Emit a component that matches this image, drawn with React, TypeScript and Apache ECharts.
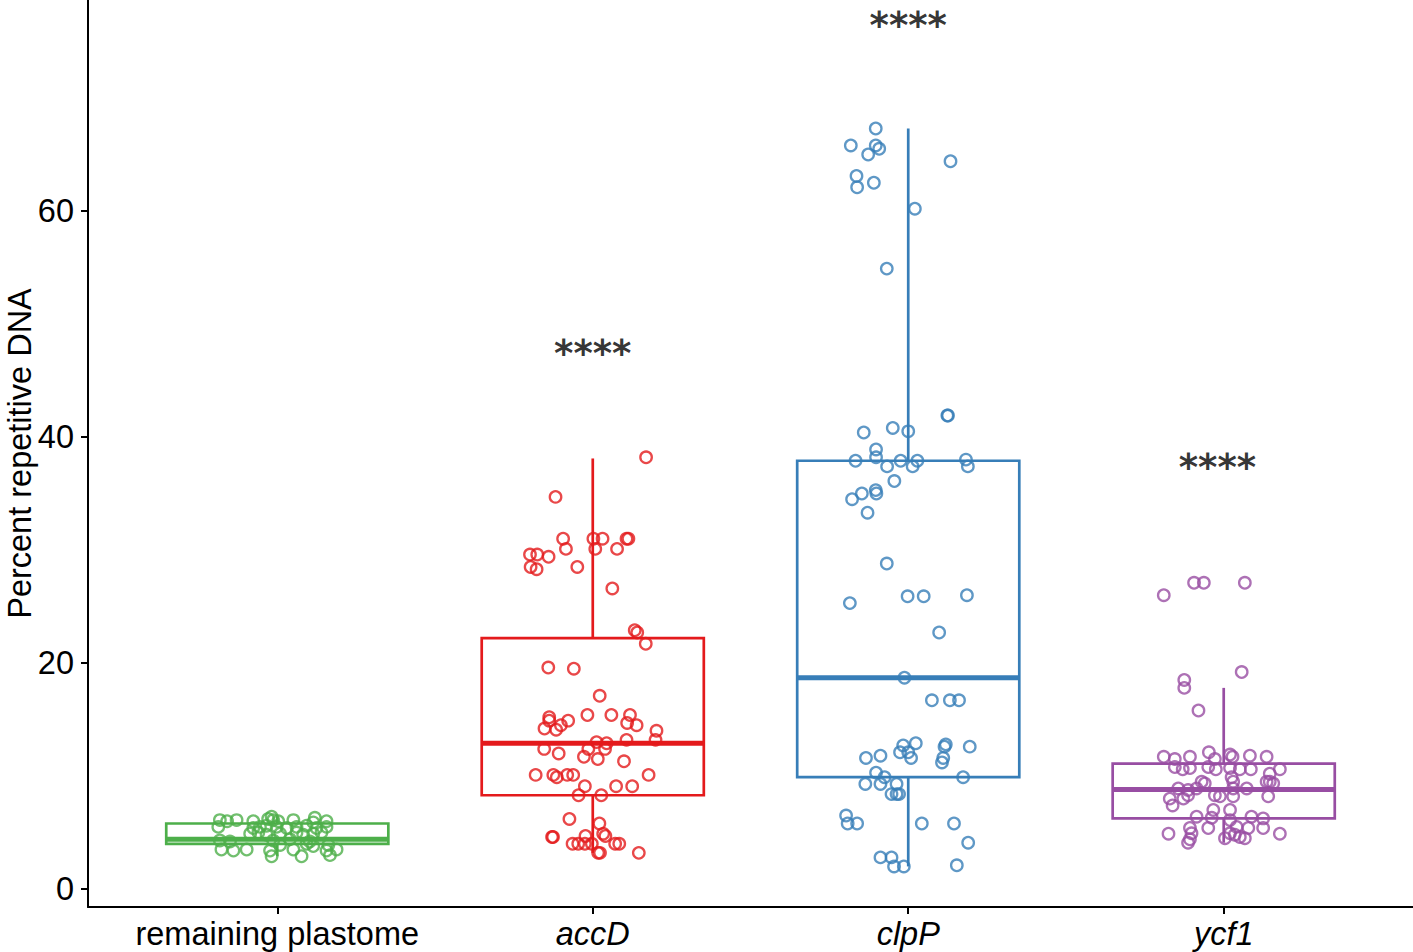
import React, { useEffect, useRef } from "react";
import * as echarts from "echarts";

const categories = ["remaining plastome", "accD", "clpP", "ycf1"];
const italicCats = [false, true, true, true];
const colors = ["#4DAF4A", "#E41A1C", "#377EB8", "#984EA3"];
const yTicks = [0, 20, 40, 60];

// [whisker low, Q1, median, Q3, whisker high]
const boxStats = [
  [2.9, 4.0, 4.4, 5.8, 6.4],
  [3.2, 8.3, 12.9, 22.2, 38.1],
  [2.0, 9.9, 18.7, 37.9, 67.3],
  [4.1, 6.25, 8.8, 11.1, 17.8],
];

// jittered points: [offset from category, value]
const plastomePoints = [
  [-0.182, 6.1], [-0.159, 6.0], [-0.129, 6.1], [-0.076, 6.0], [-0.029, 6.2], [-0.013, 6.1], [0.003, 6.0], [0.051, 6.1], [0.114, 5.9], [0.156, 6.0],
  [-0.018, 6.4], [0.119, 6.3],
  [-0.187, 5.5], [-0.076, 5.4], [-0.055, 5.5], [-0.034, 5.6], [-0.002, 5.5], [0.03, 5.4], [0.061, 5.5], [0.093, 5.6], [0.124, 5.4], [0.156, 5.5],
  [-0.086, 4.9], [-0.06, 5.0], [-0.034, 4.8], [0.009, 4.9], [0.061, 5.0], [0.082, 4.8], [0.114, 4.9], [0.14, 5.0],
  [-0.182, 4.3], [-0.15, 4.2], [-0.013, 4.3], [0.04, 4.4], [0.103, 4.2],
  [0.009, 3.9], [0.093, 4.0], [0.114, 3.8], [0.162, 3.9],
  [-0.177, 3.5], [-0.139, 3.4], [-0.097, 3.5], [-0.023, 3.4], [0.051, 3.5], [0.156, 3.4], [0.188, 3.5],
  [-0.018, 2.9], [0.077, 2.9], [0.167, 3.0],
];

const accDPoints = [
  [0.169, 38.2], [-0.118, 34.7], [-0.094, 31.0], [0.002, 31.0], [0.031, 31.0], [0.107, 31.0], [0.113, 31.0],
  [-0.085, 30.1], [0.008, 30.1], [0.077, 30.1], [-0.199, 29.6], [-0.176, 29.6], [-0.14, 29.4], [-0.197, 28.5],
  [-0.178, 28.3], [-0.049, 28.5], [0.062, 26.6], [0.133, 22.9], [0.141, 22.7], [0.168, 21.7], [-0.141, 19.6],
  [-0.06, 19.5], [0.022, 17.1], [-0.138, 15.2], [-0.138, 14.9], [-0.078, 14.9], [-0.017, 15.4], [0.059, 15.4],
  [0.118, 15.4], [0.109, 14.7], [0.139, 14.5], [-0.101, 14.5], [-0.116, 14.1], [-0.153, 14.2], [0.202, 14.0],
  [0.199, 13.2], [0.107, 13.2], [0.012, 13.0], [0.044, 12.9], [-0.014, 12.4], [0.039, 12.4], [-0.154, 12.4],
  [-0.108, 12.0], [-0.028, 11.7], [0.016, 11.5], [0.099, 11.3], [-0.181, 10.1], [-0.125, 10.1], [-0.114, 9.9],
  [-0.081, 10.1], [-0.062, 10.1], [0.177, 10.1], [-0.025, 9.1], [0.074, 9.1], [0.125, 9.1], [-0.045, 8.3],
  [0.027, 8.3], [-0.074, 6.2], [0.021, 5.8], [-0.129, 4.6], [-0.126, 4.6], [-0.023, 4.7], [0.033, 4.9],
  [0.04, 4.7], [-0.064, 4.0], [-0.046, 4.0], [-0.025, 4.0], [-0.003, 4.0], [0.071, 4.0], [0.084, 4.0],
  [0.017, 3.2], [0.023, 3.2], [0.146, 3.2],
];

const clpPPoints = [
  [-0.103, 67.3], [-0.182, 65.8], [-0.103, 65.8], [-0.092, 65.5], [-0.127, 65.0], [0.134, 64.4], [-0.164, 63.1],
  [-0.162, 62.1], [-0.109, 62.5], [0.021, 60.2], [-0.068, 54.9], [0.124, 41.9], [0.126, 41.9], [-0.141, 40.4],
  [-0.049, 40.8], [0.0, 40.5], [-0.102, 38.9], [-0.102, 38.2], [-0.167, 37.9], [-0.024, 37.9], [0.029, 37.9],
  [0.183, 38.0], [0.189, 37.4], [-0.067, 37.4], [0.014, 37.4], [-0.044, 36.1], [-0.178, 34.5], [-0.147, 35.0],
  [-0.103, 35.3], [-0.101, 35.0], [-0.129, 33.3], [-0.068, 28.8], [-0.185, 25.3], [-0.002, 25.9], [0.049, 25.9],
  [0.186, 26.0], [0.098, 22.7], [-0.012, 18.7], [0.075, 16.7], [0.132, 16.7], [0.161, 16.7], [0.024, 12.9],
  [-0.016, 12.7], [-0.026, 12.1], [0.0, 12.1], [0.009, 11.6], [0.119, 12.8], [0.115, 12.6], [0.195, 12.6],
  [0.111, 11.6], [0.107, 11.2], [-0.134, 11.6], [-0.088, 11.8], [-0.102, 10.3], [-0.075, 9.9], [-0.136, 9.3],
  [-0.088, 9.3], [-0.037, 9.3], [0.174, 9.9], [-0.053, 8.4], [-0.037, 8.4], [-0.029, 8.4], [-0.197, 6.5],
  [-0.192, 5.8], [-0.162, 5.8], [0.043, 5.8], [0.145, 5.8], [0.19, 4.1], [-0.088, 2.8], [-0.053, 2.8],
  [-0.045, 2.0], [-0.014, 2.0], [0.154, 2.1],
];

const ycf1Points = [
  [-0.19, 26.0], [-0.094, 27.1], [-0.063, 27.1], [0.067, 27.1], [0.057, 19.2], [-0.125, 18.5], [-0.125, 17.8],
  [-0.08, 15.8],
  [-0.19, 11.7], [-0.155, 11.5], [-0.107, 11.7], [-0.047, 12.1], [-0.028, 11.5], [0.02, 11.9], [0.028, 11.7],
  [0.083, 11.8], [0.136, 11.7],
  [-0.155, 10.8], [-0.13, 10.6], [-0.107, 10.7], [-0.049, 10.8], [-0.025, 10.6], [0.02, 10.7], [0.051, 10.6],
  [0.086, 10.6], [0.146, 10.2], [0.178, 10.6],
  [0.025, 9.9], [0.03, 9.5], [-0.07, 9.5], [-0.06, 9.35], [0.136, 9.5], [0.157, 9.35], [0.146, 9.5],
  [-0.144, 8.9], [-0.113, 8.76], [-0.086, 8.9], [0.073, 8.9], [0.03, 8.9],
  [-0.171, 8.0], [-0.128, 8.0], [-0.113, 8.3], [-0.028, 8.3], [-0.012, 8.2], [0.03, 8.2], [0.141, 8.2],
  [-0.162, 7.4], [-0.033, 7.0], [0.02, 7.0],
  [-0.086, 6.4], [-0.038, 6.3], [0.088, 6.4], [0.125, 6.25], [0.02, 6.1],
  [-0.107, 5.4], [-0.049, 5.4], [0.078, 5.4], [0.125, 5.4], [0.041, 5.5],
  [-0.175, 4.9], [-0.102, 4.93], [0.02, 4.93], [0.035, 4.8], [0.178, 4.9],
  [-0.107, 4.4], [0.004, 4.5], [0.051, 4.6], [0.067, 4.5], [-0.113, 4.1],
];

const groupPoints = [plastomePoints, accDPoints, clpPPoints, ycf1Points];

// significance labels: [x, y, text]
const sigLabels: [number, number, string][] = [
  [2, 47.4, "****"],
  [3, 76.4, "****"],
  [3.98, 37.3, "****"],
];

const FONT = "'Liberation Sans', Arial, Helvetica, sans-serif";
const FS = 32.5;
const BOX_HALF = 0.352;

export default function App() {
  const ref = useRef<HTMLDivElement>(null);

  useEffect(() => {
    if (!ref.current) return;
    const chart = echarts.init(ref.current, undefined, { renderer: "svg" });

    const boxSeries = {
      type: "custom",
      z: 2,
      data: boxStats.map((s, i) => [i + 1, ...s]),
      encode: { x: 0, y: [1, 2, 3, 4, 5] },
      renderItem: (params: any, api: any) => {
        const x = api.value(0);
        const lo = api.value(1);
        const q1 = api.value(2);
        const med = api.value(3);
        const q3 = api.value(4);
        const hi = api.value(5);
        const color = colors[params.dataIndex];
        const tl = api.coord([x - BOX_HALF, q3]);
        const br = api.coord([x + BOX_HALF, q1]);
        const c = api.coord([x, med]);
        const pLo = api.coord([x, lo]);
        const pHi = api.coord([x, hi]);
        const lw = 2.7;
        return {
          type: "group",
          children: [
            { type: "line", shape: { x1: c[0], y1: tl[1], x2: c[0], y2: pHi[1] }, style: { stroke: color, lineWidth: lw } },
            { type: "line", shape: { x1: c[0], y1: br[1], x2: c[0], y2: pLo[1] }, style: { stroke: color, lineWidth: lw } },
            {
              type: "rect",
              shape: { x: tl[0], y: tl[1], width: br[0] - tl[0], height: br[1] - tl[1] },
              style: { fill: "#ffffff", stroke: color, lineWidth: lw },
            },
            { type: "line", shape: { x1: tl[0], y1: c[1], x2: br[0], y2: c[1] }, style: { stroke: color, lineWidth: 5 } },
          ],
        };
      },
    };

    const pointSeries = groupPoints.map((pts, g) => ({
      type: "scatter",
      z: 3,
      symbol: "circle",
      symbolSize: 11.5,
      data: pts.map(([dx, v]) => [g + 1 + dx, v]),
      itemStyle: { color: "rgba(0,0,0,0)", borderColor: colors[g], borderWidth: 2.3 },
      emphasis: { disabled: true },
    }));

    const sigSeries = {
      type: "scatter",
      z: 4,
      symbolSize: 0,
      data: sigLabels.map(([x, y]) => [x, y]),
      label: {
        show: true,
        position: "inside",
        formatter: (p: any) => sigLabels[p.dataIndex][2],
        fontSize: 37,
        fontWeight: "bold",
        fontFamily: "'DejaVu Sans', sans-serif",
        color: "#000",
      },
    };

    chart.setOption({
      animation: false,
      grid: { left: 88, right: 0, top: 0, bottom: 45, containLabel: false, outerBoundsMode: "none" },
      xAxis: {
        type: "value",
        min: 0.4,
        max: 4.6,
        splitLine: { show: false },
        axisLine: { show: true, onZero: false, lineStyle: { color: "#000", width: 2 } },
        axisTick: { show: true, customValues: [1, 2, 3, 4], length: 7, lineStyle: { color: "#000", width: 2 } },
        axisLabel: {
          customValues: [1, 2, 3, 4],
          margin: 10,
          fontSize: FS,
          fontFamily: FONT,
          color: "#000",
          formatter: (v: number) => {
            const i = Math.round(v) - 1;
            return italicCats[i] ? `{i|${categories[i]}}` : categories[i];
          },
          rich: { i: { fontStyle: "italic", fontSize: FS, fontFamily: FONT, color: "#000" } },
        },
      },
      yAxis: {
        type: "value",
        min: -1.59,
        max: 78.67,
        name: "Percent repetitive DNA",
        nameLocation: "middle",
        nameGap: 52,
        nameMoveOverlap: false,
        nameTextStyle: { fontSize: FS, lineHeight: 32, fontFamily: FONT, color: "#000" },
        splitLine: { show: false },
        axisLine: { show: true, onZero: false, lineStyle: { color: "#000", width: 2 } },
        axisTick: { show: true, customValues: yTicks, length: 7, lineStyle: { color: "#000", width: 2 } },
        axisLabel: {
          customValues: yTicks,
          margin: 14,
          fontSize: FS,
          fontFamily: FONT,
          color: "#000",
        },
      },
      series: [boxSeries, ...pointSeries, sigSeries],
    });

    return () => chart.dispose();
  }, []);

  return (
    <div
      ref={ref}
      style={{ position: "fixed", left: 0, top: 0, width: 1413, height: 952, background: "#fff" }}
    />
  );
}
